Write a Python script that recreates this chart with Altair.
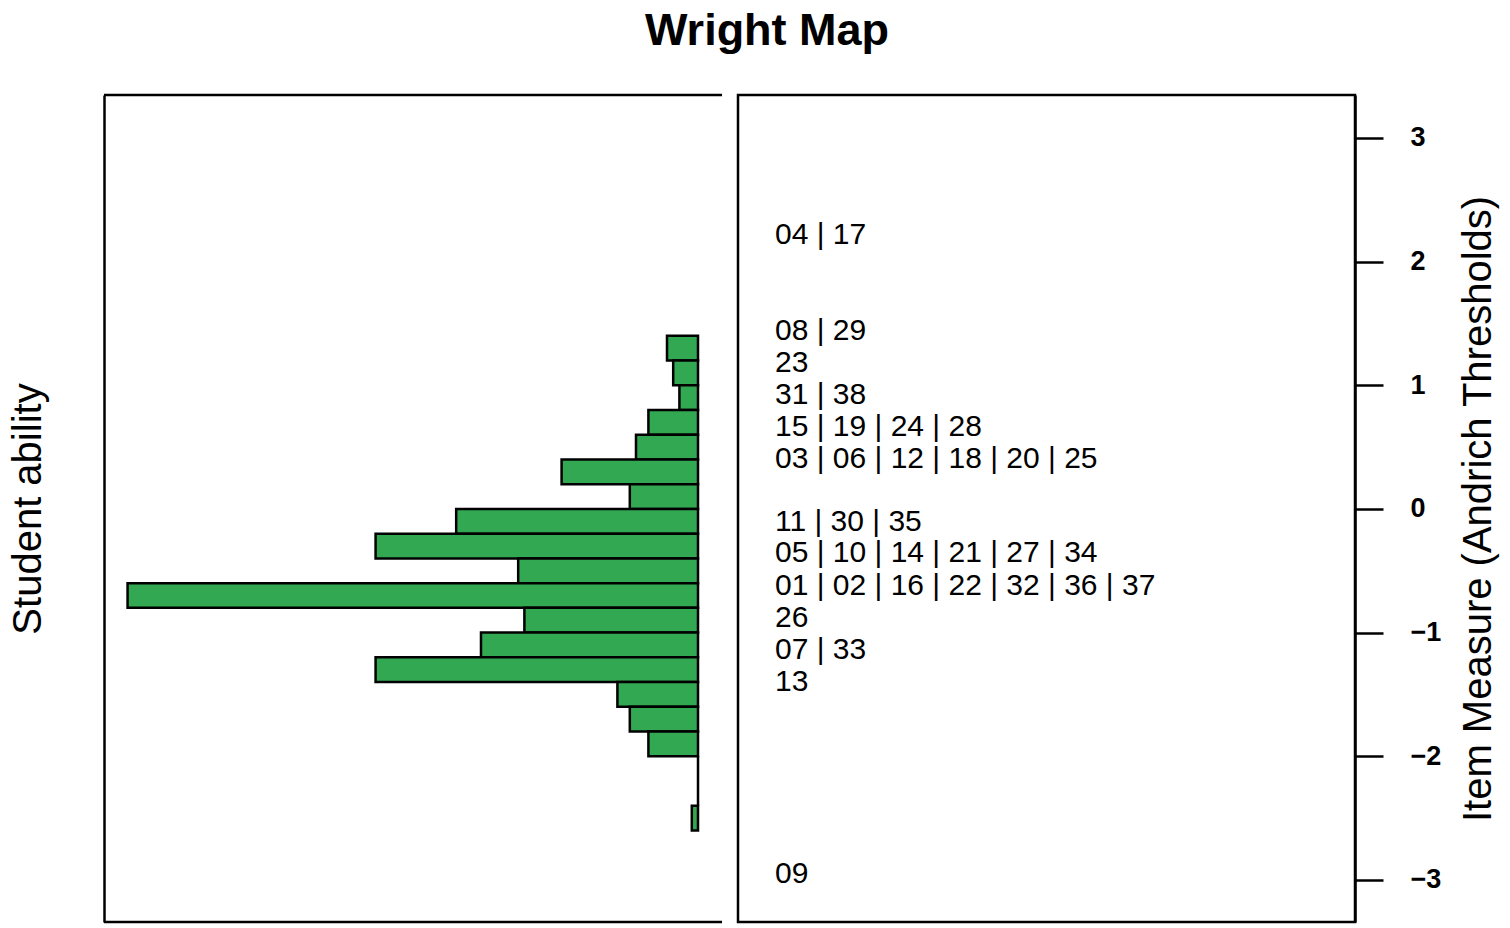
import altair as alt
import pandas as pd

FONT = "Liberation Sans"

# Student ability histogram (bins of width 0.2 logits)
bin_low = [1.2, 1.0, 0.8, 0.6, 0.4, 0.2, 0.0, -0.2, -0.4, -0.6, -0.8, -1.0, -1.2, -1.4, -1.6, -1.8, -2.0, -2.2, -2.4, -2.6]
bin_high = [1.4, 1.2, 1.0, 0.8, 0.6, 0.4, 0.2, 0.0, -0.2, -0.4, -0.6, -0.8, -1.0, -1.2, -1.4, -1.6, -1.8, -2.0, -2.2, -2.4]
counts = [5, 4, 3, 8, 10, 22, 11, 39, 52, 29, 92, 28, 35, 52, 13, 11, 8, 0, 0, 1]

# Item thresholds (labels stacked at their measure)
item_labels = [
    "04 | 17",
    "08 | 29",
    "23",
    "31 | 38",
    "15 | 19 | 24 | 28",
    "03 | 06 | 12 | 18 | 20 | 25",
    "11 | 30 | 35",
    "05 | 10 | 14 | 21 | 27 | 34",
    "01 | 02 | 16 | 22 | 32 | 36 | 37",
    "26",
    "07 | 33",
    "13",
    "09",
]
item_pos = [2.215, 1.44, 1.18, 0.92, 0.66, 0.40, -0.105, -0.36, -0.62, -0.88, -1.14, -1.40, -2.95]

axis_ticks = [-3, -2, -1, 0, 1, 2, 3]

hist = pd.DataFrame({"lo": bin_low, "hi": bin_high, "n": counts})
hist["zero"] = 0
items = pd.DataFrame({"label": item_labels, "pos": item_pos})

W_L, W_R, H = 618, 617, 827
yscale = alt.Scale(domain=[-3.34, 3.347], nice=False, zero=False)

bars = alt.Chart(hist).mark_rect(fill="#33A853", stroke="black", strokeWidth=2.5).encode(
    x=alt.X("zero:Q", scale=alt.Scale(domain=[-3.87, 95.8], reverse=True, nice=False, zero=False), axis=None),
    x2="n:Q",
    y=alt.Y(
        "lo:Q",
        scale=yscale,
        axis=alt.Axis(
            labels=False, ticks=False, grid=False, domain=True,
            domainColor="black", domainWidth=2.5,
            title="Student ability", titleFontSize=40, titleFontWeight="normal",
            titleColor="black", titleFont=FONT, titlePadding=56,
        ),
    ),
    y2="hi:Q",
)

frame = alt.Chart(pd.DataFrame({"k": [0]})).mark_rule(color="black", strokeWidth=2.5)
top_line = frame.encode(x=alt.value(0), x2=alt.value(W_L), y=alt.value(0))
bottom_line = frame.encode(x=alt.value(0), x2=alt.value(W_L), y=alt.value(H))

left = alt.layer(bars, top_line, bottom_line).properties(
    width=W_L, height=H, view=alt.ViewBackground(stroke=None)
)

right = alt.Chart(items).mark_text(
    align="left", baseline="middle", fontSize=30, font=FONT, color="black"
).encode(
    x=alt.value(37),
    y=alt.Y(
        "pos:Q",
        scale=yscale,
        axis=alt.Axis(
            orient="right", values=axis_ticks, format="d", grid=False,
            tickSize=28, tickWidth=2.5, tickColor="black",
            domain=True, domainColor="black", domainWidth=2.5,
            labelFontSize=27, labelFontWeight="bold", labelFont=FONT, labelColor="black",
            labelPadding=27, labelAlign="left", labelBaseline="middle",
            title="Item Measure (Andrich Thresholds)", titleAngle=270,
            titleFontSize=40, titleFontWeight="normal", titleFont=FONT, titleColor="black",
            titlePadding=58,
        ),
    ),
    text="label:N",
).properties(
    width=W_R, height=H, view=alt.ViewBackground(stroke="black", strokeWidth=2.5)
)

chart = alt.hconcat(left, right, spacing=12).properties(
    title=alt.TitleParams(
        "Wright Map", fontSize=45, fontWeight="bold", font=FONT, color="black",
        anchor="middle", offset=40, dx=13,
    ),
    padding={"left": 0, "top": 0, "right": 0, "bottom": 0},
    background="white",
).configure(font=FONT)

chart.save("out.html", embed_options={"renderer": "svg", "actions": False})
